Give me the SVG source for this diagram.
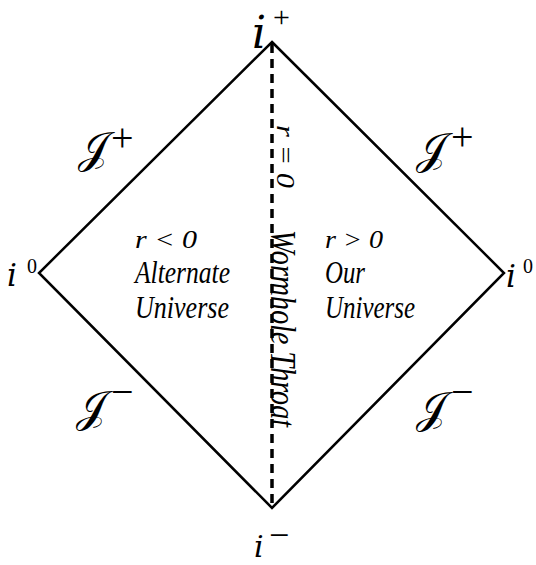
<svg xmlns="http://www.w3.org/2000/svg" width="536" height="565" viewBox="0 0 536 565">
<style>
.edge{fill:none;stroke:#000;stroke-width:2.5;stroke-linejoin:miter}
.throat{fill:none;stroke:#000;stroke-width:3.5;stroke-dasharray:9 6}
.t{font-family:"Liberation Serif","Times New Roman",serif;font-style:italic;fill:#000}
.i{font-family:"DejaVu Serif","Liberation Serif",serif;font-style:italic;fill:#000}
.m{font-family:"Liberation Serif","Times New Roman",serif;fill:#000}
.scr{font-family:"DejaVu Serif","DejaVu Sans","Noto Sans",serif;font-style:normal;fill:#000}
</style>
<rect width="536" height="565" fill="#fff"/>
<g id="connectors">
<path class="edge" d="M272,42 L504,273 L272,508 L39,273 Z"/>
<line class="throat" x1="272" y1="44" x2="272" y2="506"/>
</g>
<g id="i-plus"><text class="i" x="252" y="48" font-size="44">i</text><text class="m" x="273" y="27" font-size="30">+</text></g>
<g id="i-minus"><text class="i" x="254" y="557" font-size="30">i</text><text class="m" x="269" y="547" font-size="36">−</text></g>
<g id="i0-left"><text class="i" x="7" y="286" font-size="31">i</text><text class="m" x="27" y="273" font-size="20">0</text></g>
<g id="i0-right"><text class="i" x="506" y="287" font-size="31">i</text><text class="m" x="523" y="273" font-size="20">0</text></g>
<g id="scri-plus-left"><text class="scr" x="78" y="163" font-size="44">𝒥</text><text class="m" x="111" y="151" font-size="40">+</text></g>
<g id="scri-plus-right"><text class="scr" x="416" y="164" font-size="44">𝒥</text><text class="m" x="451" y="150" font-size="40">+</text></g>
<g id="scri-minus-left"><text class="scr" x="76" y="422" font-size="44">𝒥</text><text class="m" x="111" y="405" font-size="40">−</text></g>
<g id="scri-minus-right"><text class="scr" x="416" y="423" font-size="44">𝒥</text><text class="m" x="451" y="405" font-size="40">−</text></g>
<g id="alternate-universe">
<text class="t" x="135" y="248" font-size="26" textLength="62" lengthAdjust="spacingAndGlyphs">r &lt; 0</text>
<text class="t" x="135" y="283" font-size="32" textLength="95" lengthAdjust="spacingAndGlyphs">Alternate</text>
<text class="t" x="135" y="318" font-size="31" textLength="94" lengthAdjust="spacingAndGlyphs">Universe</text>
</g>
<g id="our-universe">
<text class="t" x="325" y="248" font-size="26" textLength="58" lengthAdjust="spacingAndGlyphs">r &gt; 0</text>
<text class="t" x="325" y="283" font-size="32" textLength="40" lengthAdjust="spacingAndGlyphs">Our</text>
<text class="t" x="325" y="318" font-size="31" textLength="90" lengthAdjust="spacingAndGlyphs">Universe</text>
</g>
<g id="wormhole-throat">
<text class="t" transform="translate(277,125) rotate(90)" font-size="26" textLength="63" lengthAdjust="spacingAndGlyphs">r = 0</text>
<text class="t" transform="translate(271,230) rotate(90)" font-size="36" textLength="197" lengthAdjust="spacingAndGlyphs">Wormhole Throat</text>
</g>
</svg>
